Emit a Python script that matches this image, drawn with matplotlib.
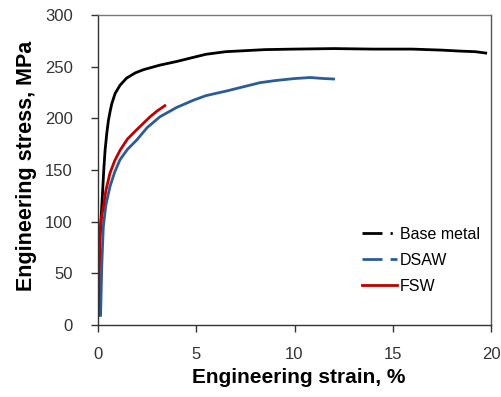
import matplotlib
matplotlib.use("Agg")
import matplotlib.pyplot as plt
from matplotlib.lines import Line2D

plt.rcParams['font.family'] = ['Liberation Sans', 'DejaVu Sans']
plt.rcParams['lines.scale_dashes'] = False

base_strain = [0.0, 0.05, 0.1, 0.19, 0.3, 0.36, 0.45, 0.53, 0.62, 0.7, 0.87, 1.12, 1.46, 1.9, 2.3,
               3.15, 4.0, 4.85, 5.5, 6.5, 7.5, 8.5, 10.0, 12.0, 14.0, 16.0, 17.5, 18.5, 19.2, 19.8]
base_stress = [8, 55, 85, 114, 152, 169, 186, 198, 207, 214, 224, 232, 239, 244, 247,
               251.5, 255, 259, 262, 264.5, 265.5, 266.5, 267, 267.5, 267, 267, 266, 265, 264.5, 263]

dsaw_strain = [0.13, 0.19, 0.27, 0.4, 0.61, 0.85, 1.12, 1.5, 1.97, 2.5, 3.15, 4.0, 4.85, 5.5,
               6.55, 7.5, 8.24, 9.0, 10.0, 10.8, 11.5, 12.06]
dsaw_stress = [8, 56, 95, 116, 134, 148, 160, 170, 179, 191, 201.5, 210.5, 217.5, 222,
               226.5, 231, 234.5, 236.5, 238.5, 239.5, 238.5, 238]

fsw_strain = [0.02, 0.05, 0.1, 0.18, 0.27, 0.4, 0.61, 0.85, 1.12, 1.5, 1.97, 2.3, 2.65, 3.0, 3.46]
fsw_stress = [8, 50, 89, 105, 114, 130, 147, 159, 169, 180, 189, 195, 201.5, 207, 213]

labels = ['Base metal', 'DSAW', 'FSW']
colors = ['#000000', '#2B5C9A', '#C00000']

fig = plt.figure(figsize=(5.02, 3.97), dpi=100)
ax = fig.add_axes([98/502, 1-325/397, (491-98)/502, (325-15)/397])

lw = 2.0
ax.plot(base_strain, base_stress, color=colors[0], lw=lw, solid_capstyle='butt')
ax.plot(dsaw_strain, dsaw_stress, color=colors[1], lw=lw, solid_capstyle='butt')
ax.plot(fsw_strain, fsw_stress, color=colors[2], lw=lw, solid_capstyle='butt')

ax.set_xlim(0, 20)
ax.set_ylim(0, 300)
ax.set_xticks([0, 5, 10, 15, 20])
ax.set_yticks([0, 50, 100, 150, 200, 250, 300])
ax.tick_params(direction='out', length=5, width=1, labelsize=12, colors='#333333')
ax.tick_params(axis='y', pad=13)
ax.tick_params(axis='x', pad=10.5)
for s in ax.spines.values():
    s.set_color('#333333')
    s.set_linewidth(1)
ax.spines['top'].set_color('#777777')
ax.spines['right'].set_color('#555555')
ax.set_xlabel('Engineering strain, %', fontsize=15, fontweight='bold')
ax.set_ylabel('Engineering stress, MPa', fontsize=15.5, fontweight='bold')
ax.xaxis.set_label_coords((298.4-98)/393, (325-368)/310)
ax.yaxis.set_label_coords((37.5-98)/393, (325-166)/310)

handles = [
    Line2D([], [], color=colors[0], lw=lw, linestyle=(0, (14.4, 5.8, 1.6, 10))),
    Line2D([], [], color=colors[1], lw=lw, linestyle=(0, (14.4, 5.8, 5.0, 10))),
    Line2D([], [], color=colors[2], lw=lw),
]
ax.legend(handles, labels, loc='upper left', bbox_to_anchor=((362-98)/393, (325-227)/310),
          frameon=False, borderpad=0, borderaxespad=0, fontsize=11.5,
          handlelength=2.19, handletextpad=0.2, labelspacing=0.69)

fig.savefig('out.png', dpi=100)
